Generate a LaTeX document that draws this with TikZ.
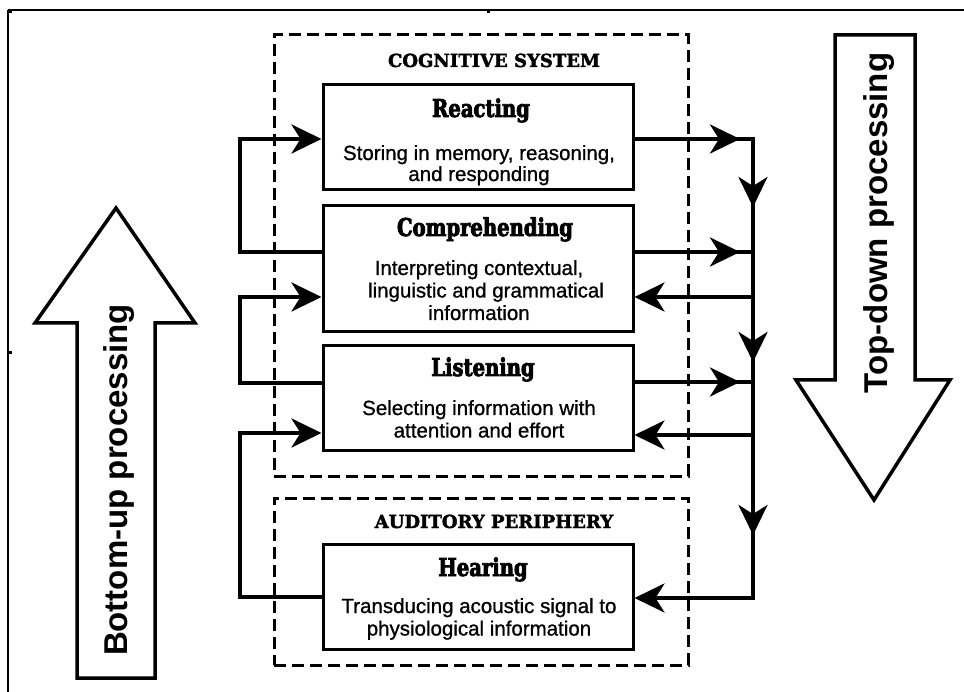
\documentclass[tikz,border=0pt]{standalone}
\usepackage{fontspec}
\setmainfont{Liberation Sans}
\newfontfamily\bodyfont{Liberation Sans}[FakeBold=0.9]
\newfontfamily\slab{DejaVu Serif}[FakeStretch=0.8, BoldFeatures={FakeBold=3.2}]
\newfontfamily\slabw{DejaVu Serif}[BoldFeatures={FakeBold=2.2}]
\usetikzlibrary{arrows.meta}
\tikzset{
  >={Stealth[length=30pt,width=29pt,inset=9pt]},
  conn/.style={line width=4pt},
  stagebox/.style={draw, line width=3pt, minimum width=310pt, inner sep=0pt},
  dashbox/.style={draw, line width=3pt, dash pattern=on 12pt off 6pt, minimum width=414pt, inner sep=0pt},
  bigarrow/.style={draw, line width=3.5pt, fill=white, line join=miter},
  ttl/.style={font=\slab\bfseries\fontsize{24.5}{26}\selectfont, anchor=base, inner sep=0pt},
  sys/.style={font=\slabw\bfseries\fontsize{18}{20}\selectfont, anchor=base, inner sep=0pt},
  body/.style={font=\bodyfont\fontsize{20.5}{22.5}\selectfont, anchor=base, inner sep=0pt},
  biglabel/.style={font=\bfseries\fontsize{33}{36}\selectfont, anchor=base, rotate=90, inner sep=0pt},
}
\begin{document}
\begin{tikzpicture}[x=1pt,y=-1pt]
\useasboundingbox (0,0) rectangle (964,692);
% frame remnants
\draw[line width=1.6pt] (8,10) -- (964,10);
\draw[line width=1.6pt] (8,10) -- (8,692);
\fill (8,10) rectangle (12,13);
\fill (486.5,10) rectangle (489.5,13.5);
\fill (8,351.5) rectangle (11.5,354.5);

% big arrows
\draw[bigarrow] (77,678) -- (77,323) -- (35,323) -- (116,208) -- (195,323) -- (155,323) -- (155,678) -- cycle;
\node[biglabel] (bu) at (127,480) {Bottom-up processing};
\draw[bigarrow] (835,35) -- (915,35) -- (915,380) -- (950,380) -- (874,500) -- (796,380) -- (835,380) -- cycle;
\node[biglabel] (td) at (887,223) {Top-down processing};

% dashed system boxes
\node[dashbox, minimum height=441pt] (cog) at (481,255.5) {};
\node[dashbox, minimum height=167pt] (aud) at (481,581.5) {};
\node[sys] (cogt) at (494,67) {COGNITIVE SYSTEM};
\node[sys] (audt) at (494,528) {AUDITORY PERIPHERY};

% stage boxes
\node[stagebox, minimum height=105pt] (R) at (478,137.5) {};
\node[stagebox, minimum height=126pt] (C) at (478,269) {};
\node[stagebox, minimum height=104pt] (L) at (478,398) {};
\node[stagebox, minimum height=105pt] (H) at (478,596.5) {};

\node[ttl] (Rt) at (481,117) {Reacting};
\node[body] (R1) at (479,160) {Storing in memory, reasoning,};
\node[body] (R2) at (479,181) {and responding};

\node[ttl] (Ct) at (485,236) {Comprehending};
\node[body] (C1) at (479,275) {Interpreting contextual,};
\node[body] (C2) at (486,297.5) {linguistic and grammatical};
\node[body] (C3) at (479,320) {information};

\node[ttl] (Lt) at (483,376) {Listening};
\node[body] (L1) at (479,415) {Selecting information with};
\node[body] (L2) at (479,437.5) {attention and effort};

\node[ttl] (Ht) at (483,576) {Hearing};
\node[body] (H1) at (479,613) {Transducing acoustic signal to};
\node[body] (H2) at (479,635.5) {physiological information};

% coordinates of the connectors
\coordinate (b1) at (753,139);
\coordinate (b2) at (753,252);
\coordinate (b3) at (753,297);
\coordinate (b4) at (753,382);
\coordinate (b5) at (753,435);
\coordinate (b6) at (753,598);
\coordinate (a1) at (740,139);
\coordinate (a2) at (740,252);
\coordinate (a4) at (740,382);
\coordinate (d1) at (753,207);
\coordinate (d2) at (753,362);
\coordinate (d3) at (753,535);
\coordinate (l1b) at (240,252);
\coordinate (l1t) at (240,139);
\coordinate (l2b) at (240,383);
\coordinate (l2t) at (240,297);
\coordinate (l3b) at (240,597);
\coordinate (l3t) at (240,433);

% right bus
\draw[conn,->] (R.east |- b1) -- (b1) -- (b6) -- (H.east |- b6);
\draw[conn] (C.east |- b2) -- (b2);
\draw[conn,->] (b3) -- (C.east |- b3);
\draw[conn] (L.east |- b4) -- (b4);
\draw[conn,->] (b5) -- (L.east |- b5);
\draw[conn,->] (R.east |- a1) -- (a1);
\draw[conn,->] (C.east |- a2) -- (a2);
\draw[conn,->] (L.east |- a4) -- (a4);
\draw[conn,->] (b1) -- (d1);
\draw[conn,->] (b3) -- (d2);
\draw[conn,->] (b5) -- (d3);

% left loops
\draw[conn,->] (C.west |- l1b) -- (l1b) -- (l1t) -- (R.west |- l1t);
\draw[conn,->] (L.west |- l2b) -- (l2b) -- (l2t) -- (C.west |- l2t);
\draw[conn,->] (H.west |- l3b) -- (l3b) -- (l3t) -- (L.west |- l3t);
\end{tikzpicture}
\end{document}
